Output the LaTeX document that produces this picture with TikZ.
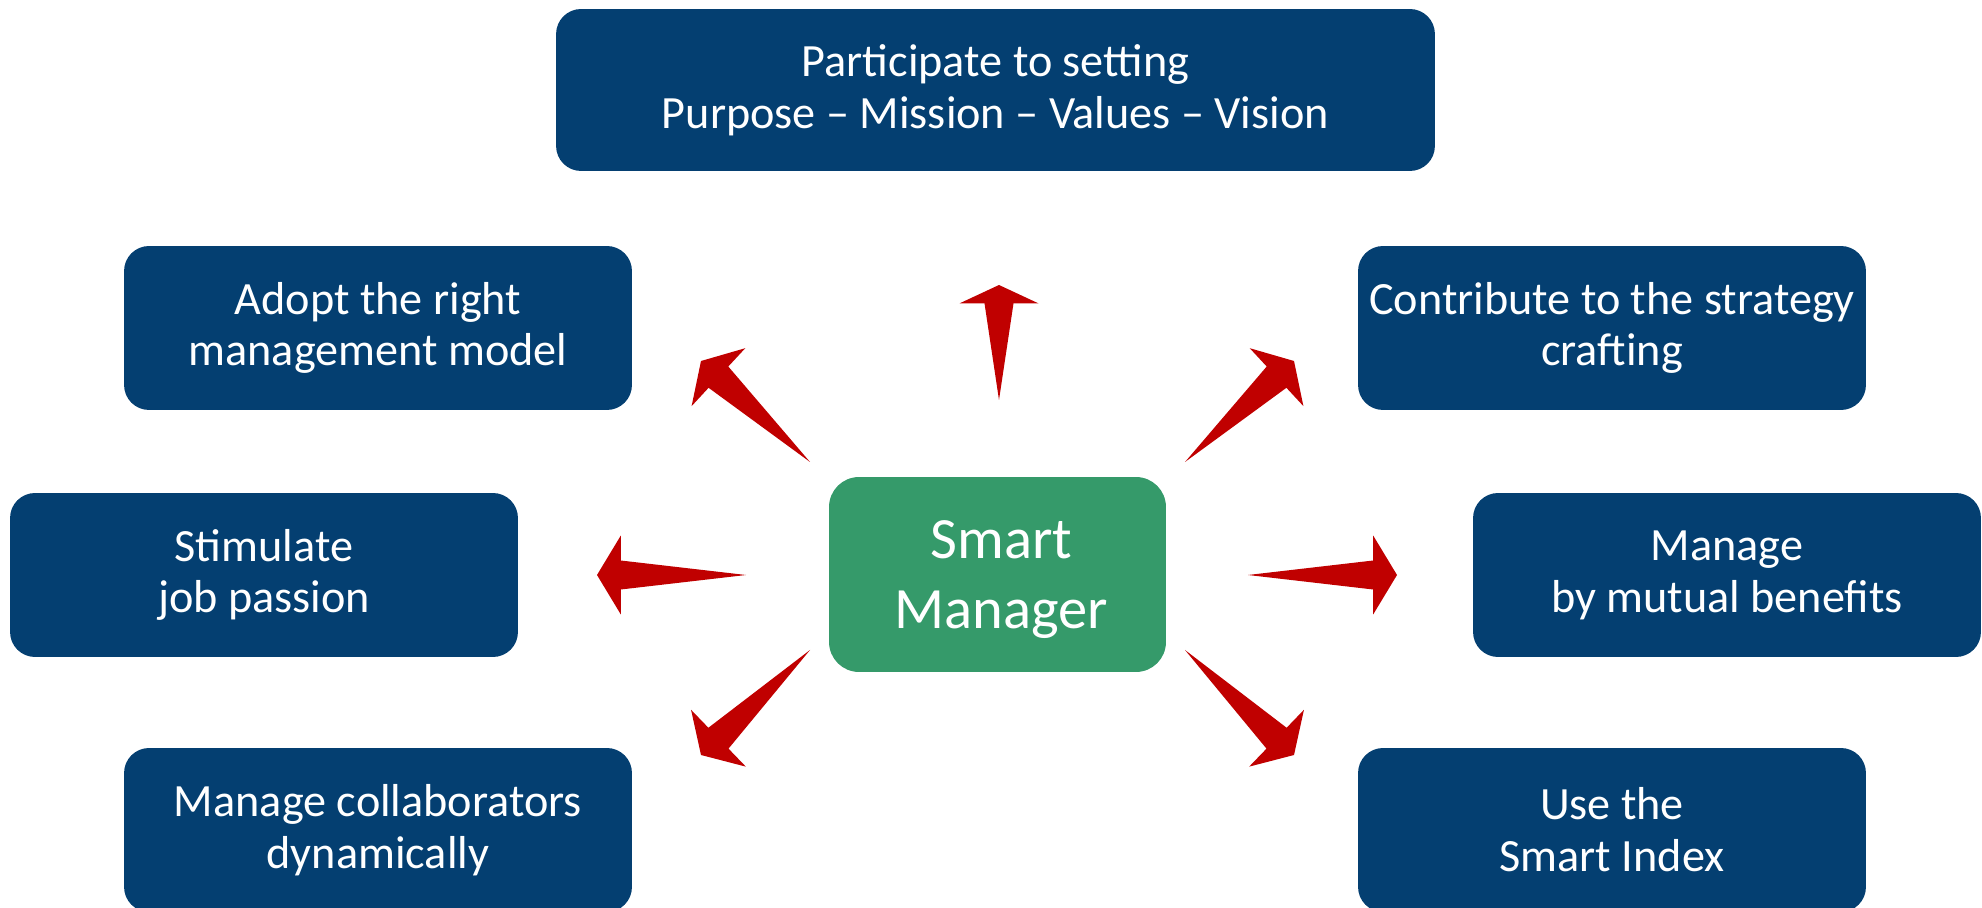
\documentclass[tikz,border=0pt]{standalone}
\usepackage{fontspec}
\setmainfont{Carlito}
\usepackage{tikz}
\usetikzlibrary{positioning,calc}

\definecolor{boxblue}{RGB}{4,63,113}
\definecolor{boxgreen}{RGB}{53,154,106}
\definecolor{arrowred}{RGB}{192,0,0}

% tapered arrow: #1 = tail, #2 = tip
\newcommand{\taperarrow}[2]{%
  \coordinate (hb) at ($(#2)!0.16!(#1)$);
  \fill[arrowred, line join=round] (#1) -- ($(hb)!0.29cm!90:(#2)$) -- ($(hb)!0.79cm!90:(#2)$) -- (#2)
    -- ($(hb)!0.79cm!-90:(#2)$) -- ($(hb)!0.29cm!-90:(#2)$) -- cycle;
}

\begin{document}
\begin{tikzpicture}[
    x=0.02cm, y=-0.02cm,
    goal/.style={rectangle, rounded corners=0.5cm, fill=boxblue, text=white, align=center,
        minimum width=10.16cm, minimum height=3.28cm, inner sep=0pt,
        font=\fontsize{26.3}{29.5}\selectfont},
    core/.style={rectangle, rounded corners=0.6cm, fill=boxgreen, text=white, align=center,
        minimum width=6.74cm, minimum height=3.9cm, inner sep=0pt, text depth=0pt,
        font=\fontsize{33.3}{39.5}\selectfont}
]
\useasboundingbox (0,0) rectangle (1982,908);
\clip (0,0) rectangle (1982,908);

% Centre
\node[core] (manager) at (997.5,574.5) {\hspace{0.15cm}Smart\\\hspace{0.15cm}Manager};

% Goals
\node[goal, minimum width=17.58cm, minimum height=3.24cm] (purpose) at (995.5,90) {Participate to setting\\Purpose -- Mission -- Values -- Vision};
\node[goal] (model) at (378,328) {Adopt the right\\management model};
\node[goal] (strategy) at (1612,328) {Contribute to the strategy\\crafting};
\node[goal] (passion) at (264,575) {Stimulate\\job passion};
\node[goal] (benefits) at (1727,575) {Manage\\by mutual benefits};
\node[goal] (collab) at (378,830) {Manage collaborators\\dynamically};
\node[goal] (index) at (1612,830) {Use the\\Smart Index};

% Arrow ends
\coordinate (upT) at (999,400);   \coordinate (upH) at (999,285);
\coordinate (ulT) at (810,462);   \coordinate (ulH) at (701,361);
\coordinate (urT) at (1185,462);  \coordinate (urH) at (1294,361);
\coordinate (lfT) at (746,575);   \coordinate (lfH) at (597,575);
\coordinate (rtT) at (1248,575);  \coordinate (rtH) at (1397,575);
\coordinate (llT) at (810,650);   \coordinate (llH) at (701,755);
\coordinate (lrT) at (1185,650);  \coordinate (lrH) at (1294,755);

% Arrows
\taperarrow{upT}{upH}
\taperarrow{ulT}{ulH}
\taperarrow{urT}{urH}
\taperarrow{lfT}{lfH}
\taperarrow{rtT}{rtH}
\taperarrow{llT}{llH}
\taperarrow{lrT}{lrH}
\end{tikzpicture}
\end{document}
